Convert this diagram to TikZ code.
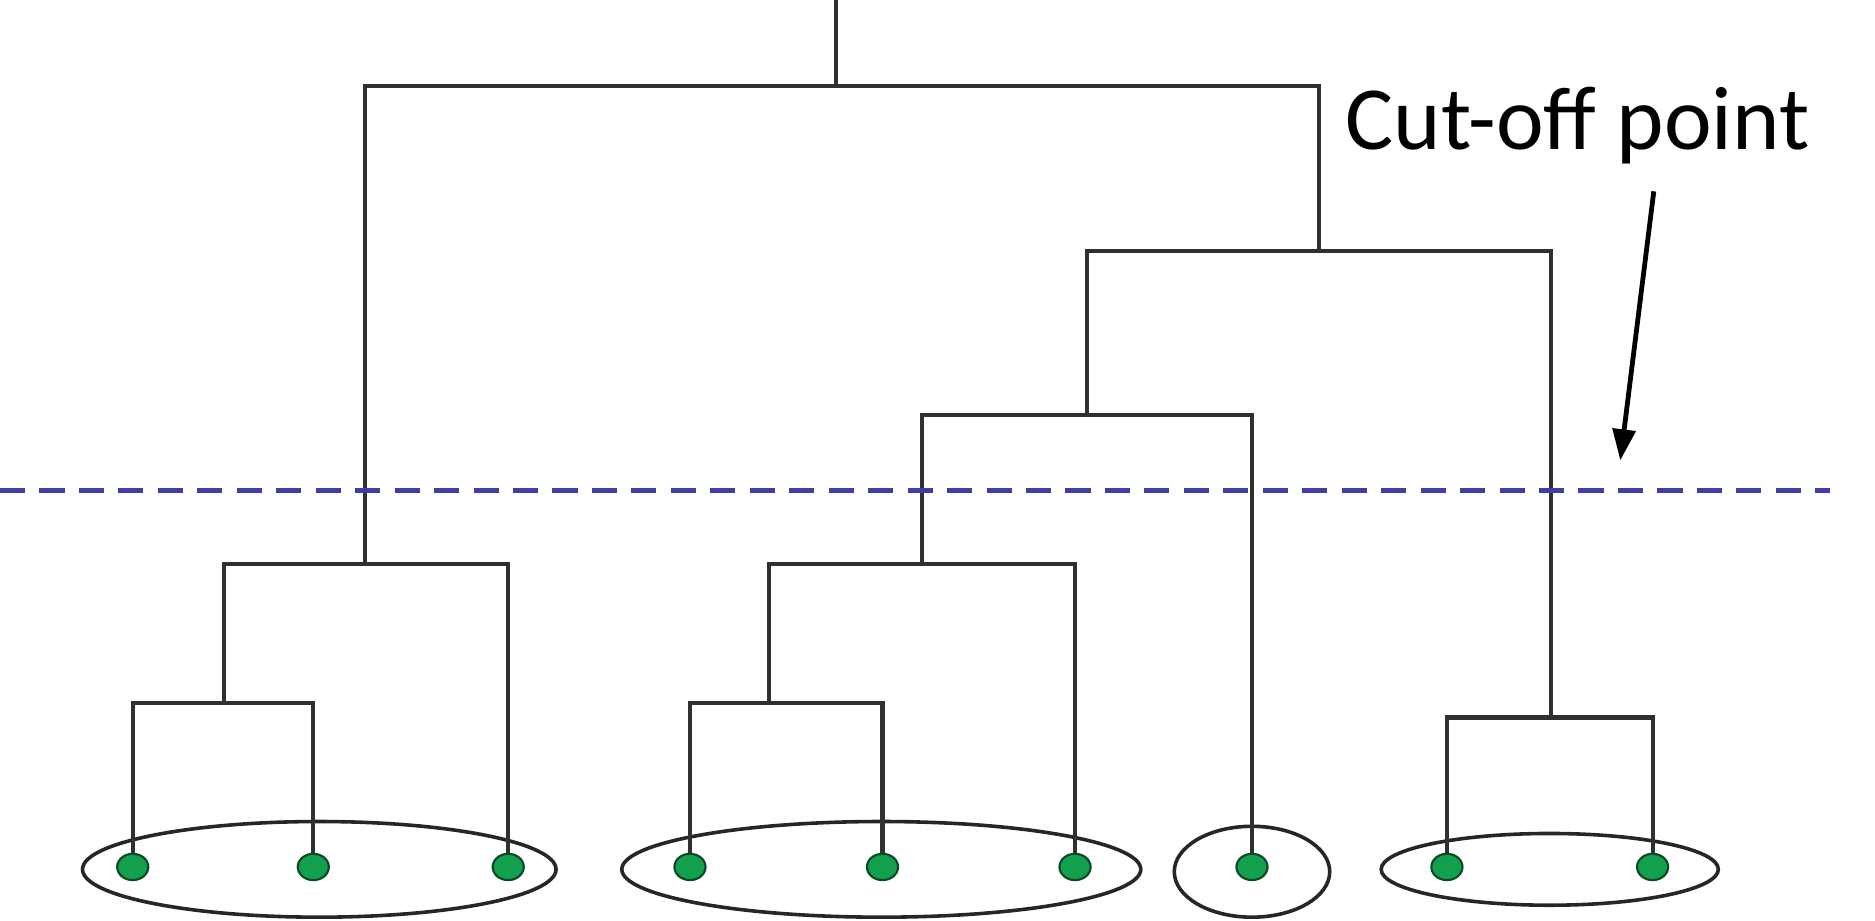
\documentclass[tikz,border=0pt]{standalone}
\usepackage{fontspec}
\setmainfont{Carlito}
\usetikzlibrary{shapes.geometric,arrows.meta}
\definecolor{treeline}{HTML}{303030}
\definecolor{cutblue}{HTML}{3E3EA6}
\definecolor{dotgreen}{HTML}{12A04E}
\definecolor{dotedge}{HTML}{0B4A24}
\tikzset{
  branch/.style={draw=treeline, line width=3.4pt},
  leafdot/.style={ellipse, draw=dotedge, line width=1.8pt, fill=dotgreen, minimum width=26pt, minimum height=22pt, inner sep=0pt},
  cluster/.style={ellipse, draw=black!85, line width=3pt, inner sep=0pt},
  cutline/.style={draw=cutblue, line width=4pt, dash pattern=on 21pt off 12pt},
  pointer/.style={draw=black, line width=4pt, -{Triangle[length=26pt,width=19pt]}},
  labeltext/.style={font=\fontsize{75.5}{82}\selectfont, inner sep=0pt, anchor=base west}
}
\begin{document}
\begin{tikzpicture}[x=1pt,y=-1pt]
\useasboundingbox (0,0) rectangle (1568,770);
% cluster ellipses
\node[cluster, minimum width=396pt, minimum height=80pt] (c1) at (267,727) {};
\node[cluster, minimum width=434pt, minimum height=80pt] (c2) at (737,727) {};
\node[cluster, minimum width=130pt, minimum height=76pt] (c3) at (1047,729) {};
\node[cluster, minimum width=282pt, minimum height=60pt] (c4) at (1296,727) {};
% merge points
\coordinate (A) at (187,588);
\coordinate (B) at (305,472);
\coordinate (C) at (643,588);
\coordinate (D) at (771,472);
\coordinate (E) at (909,347);
\coordinate (F) at (1297,600);
\coordinate (G) at (1103,210);
\coordinate (H) at (699,72);
\coordinate (top) at (699,0);
% leaf positions
\coordinate (p1) at (111,725);
\coordinate (p2) at (262,725);
\coordinate (p3) at (425,725);
\coordinate (p4) at (577,725);
\coordinate (p5) at (738,725);
\coordinate (p6) at (899,725);
\coordinate (p7) at (1047,725);
\coordinate (p8) at (1210,725);
\coordinate (p9) at (1382,725);
% tree
\draw[branch] (p1) |- (A) -| (p2);
\draw[branch] (A) |- (B) -| (p3);
\draw[branch] (p4) |- (C) -| (p5);
\draw[branch] (C) |- (D) -| (p6);
\draw[branch] (D) |- (E) -| (p7);
\draw[branch] (p8) |- (F) -| (p9);
\draw[branch] (E) |- (G) -| (F);
\draw[branch] (B) |- (H) -| (G);
\draw[branch] (H) -- (top);
% leaves
\foreach \i in {1,...,9} {\node[leafdot] (l\i) at (p\i) {};}
% cut-off line
\coordinate (cutL) at (0,410);
\coordinate (cutR) at (1530,410);
\draw[cutline] (cutL) -- (cutR);
% label and arrow
\node[labeltext] (lab) at (1125,125) {Cut-off point};
\coordinate (arrS) at (1383,160);
\coordinate (arrE) at (1355,385);
\draw[pointer] (arrS) -- (arrE);
\end{tikzpicture}
\end{document}
